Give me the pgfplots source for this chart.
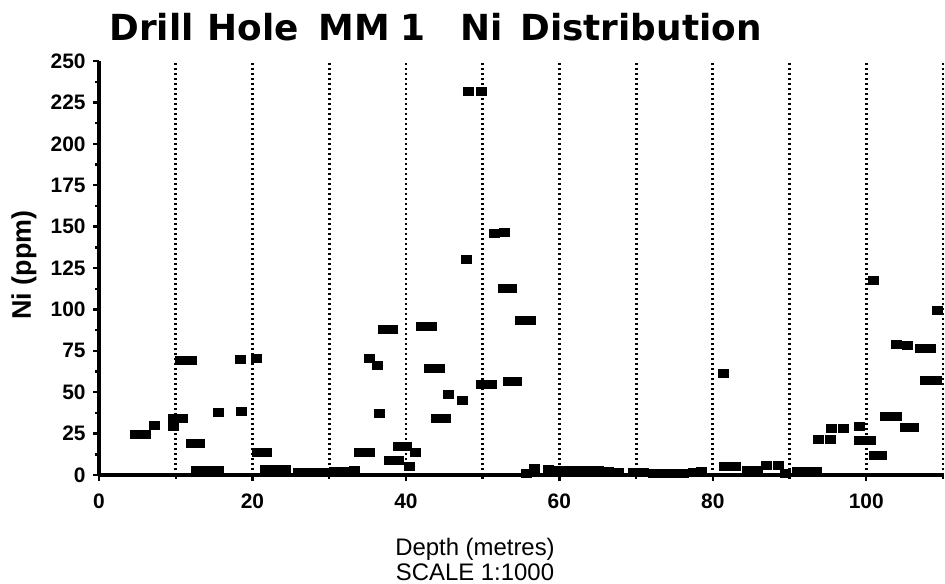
\documentclass[border=0pt]{standalone}
\usepackage{pgfplots}
\pgfplotsset{compat=1.18}
\usepackage{fontspec}
\setmainfont{Liberation Sans}
\newfontfamily\titlefont{DejaVu Sans}

\pgfplotstableread{
x y
4.8 24.6
6.1 24.6
7.2 29.7
9.7 29.4
9.7 34.2
10.9 34.3
10.6 69.4
12.1 69.5
12.0 19.3
13.1 19.3
12.7 3.0
14.1 3.0
15.6 3.0
15.5 38.1
18.5 38.2
18.4 70.0
20.5 70.2
20.6 13.5
21.8 13.5
21.7 3.5
23.0 3.5
24.3 3.5
26.0 1.5
27.1 1.5
28.2 1.5
29.3 1.5
30.7 2.0
32.0 2.0
33.3 2.5
33.9 13.6
35.2 13.6
35.2 70.2
36.3 66.2
36.6 37.0
37.0 88.1
38.2 88.1
37.9 8.7
39.0 8.7
39.0 17.3
40.0 17.3
40.5 5.3
41.2 13.6
42.0 90.0
43.3 90.0
43.1 64.6
44.3 64.6
44.0 34.1
45.2 34.1
45.6 48.7
47.4 45.3
47.9 130.0
48.2 231.5
49.9 231.7
49.9 54.8
51.2 55.0
51.5 146.0
52.8 146.2
52.7 112.4
53.7 112.4
53.4 56.7
54.4 56.7
54.9 93.5
56.2 93.5
55.7 1.0
56.8 4.0
58.6 3.5
59.9 3.0
61.2 3.0
62.5 2.5
63.8 2.5
65.1 2.5
66.4 2.0
67.7 1.5
69.6 1.5
70.9 1.5
72.2 1.0
73.6 1.0
74.9 1.0
76.2 1.0
77.5 1.5
78.5 2.0
81.4 61.3
81.5 5.0
83.0 5.0
84.5 3.0
85.8 3.0
87.0 6.0
88.5 6.0
89.5 1.0
91.0 2.0
92.3 2.0
93.5 2.0
93.7 21.3
95.3 21.3
95.4 27.9
97.0 28.1
99.1 29.5
99.1 21.2
100.5 21.2
101.0 11.6
102.0 11.6
102.5 35.3
103.9 35.5
105.1 29.0
106.2 29.0
103.9 78.9
105.4 78.4
107.0 76.2
108.3 76.3
107.7 57.0
109.1 57.0
109.3 99.5
100.9 117.6
}\nidata

\begin{document}
\begin{tikzpicture}[x=1bp,y=1bp]
\useasboundingbox (-49.5,-54) rectangle (423,237.5);
\begin{axis}[
  at={(0,0)}, anchor=south west,
  scale only axis, width=422bp, height=207bp,
  xmin=0, xmax=110, ymin=0, ymax=250,
  axis x line*=bottom, axis y line*=left,
  xtick={0,20,...,100}, minor xtick={10,30,...,110},
  ytick={0,25,...,250}, minor ytick={12.5,37.5,...,237.5},
  tick align=outside,
  major tick length=3bp, minor tick length=2bp,
  xmajorgrids, xminorgrids,
  major grid style={black, line width=1.4bp, dash pattern=on 1.2bp off 1.3bp},
  minor grid style={black, line width=1.4bp, dash pattern=on 1.2bp off 1.3bp},
  axis line style={black, line width=1.8bp},
  every tick/.append style={black, line width=1.2bp},
  tick label style={font=\fontsize{10.5}{12}\selectfont\bfseries},
  /pgf/number format/assume math mode=true,
  xticklabel style={anchor=north, inner sep=0pt, yshift=-6bp},
  yticklabel style={anchor=east, inner sep=0pt, xshift=-3.5bp},
  clip=false,
]
\addplot[only marks, mark=square*, mark size=2bp,
  mark options={xscale=1.25, draw=black, fill=black}] table[x=x,y=y] {\nidata};
\end{axis}
\begin{scope}[every node/.style={inner sep=0pt, anchor=base west, font={\titlefont\bfseries\fontsize{18}{21}\selectfont}}]
\node at (5,217.5) {Drill};
\node at (54,217.5) {Hole};
\node at (109.5,217.5) {MM};
\node at (150.5,217.5) {1};
\node at (180.5,217.5) {Ni};
\node at (210.5,217.5) {Distribution};
\end{scope}
\node[rotate=90, inner sep=0pt, font=\fontsize{13.5}{15}\selectfont\bfseries] at (-37.5,105) {Ni (ppm)};
\node[anchor=base, inner sep=0pt, font=\fontsize{12}{14}\selectfont] at (188,-40) {Depth (metres)};
\node[anchor=base, inner sep=0pt, font=\fontsize{12}{14}\selectfont] at (188,-52.5) {SCALE 1:1000};
\end{tikzpicture}
\end{document}
